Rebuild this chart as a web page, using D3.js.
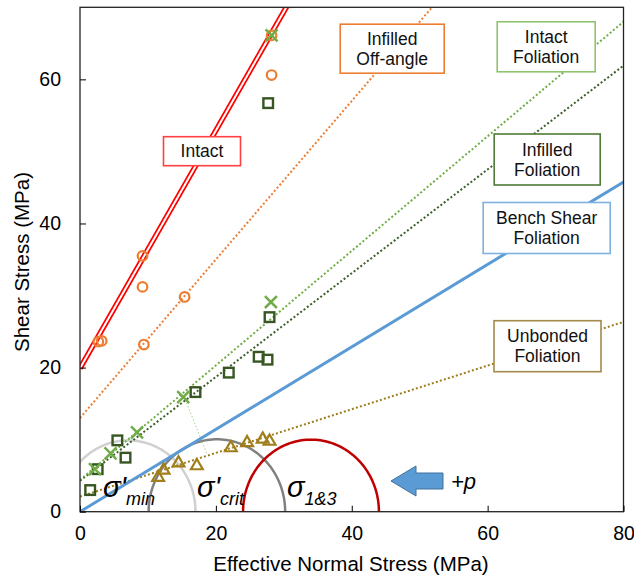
<!DOCTYPE html>
<html lang="en">
<head>
  <meta charset="UTF-8">
  <title>Shear vs Effective Normal Stress</title>
  <script src="https://cdnjs.cloudflare.com/ajax/libs/d3/7.8.5/d3.min.js"></script>
  <style>
    body { margin: 0; background: #fff; }
    svg { font-family: "Liberation Sans", Arial, sans-serif; }
    .tick text { font-size: 19.5px; fill: #000; }
    .box text { font-size: 17.5px; fill: #111; text-anchor: middle; }
  </style>
</head>
<body>
  <svg width="634" height="577"></svg>
  <script>
    // failure envelopes: intercept (MPa) and slope
    const envelopes = [
      { name: 'unbonded', c: 2.1, m: 0.303, color: '#a07e1b', dash: true },
      { name: 'bench', c: 0, m: 0.572, color: '#5b9bd5', dash: false },
      { name: 'infilledFol', c: 4.3, m: 0.72, color: '#3b5f27', dash: true },
      { name: 'intactFol', c: 4.4, m: 0.795, color: '#70ad47', dash: true },
      { name: 'offAngle', c: 13.0, m: 1.10, color: '#ed7d31', dash: true }
    ]
    const intact = { c: 19.9, m: 1.65 }

    // test points [normal, shear]
    const offAngle = [[28.2, 60.6], [9.2, 35.5], [9.2, 31.2], [15.4, 29.8], [2.7, 23.6], [3.2, 23.7], [9.4, 23.2], [28.2, 66.1]]
    const infilledFol = [[27.7, 56.7], [27.9, 27.0], [26.3, 21.5], [27.6, 21.1], [21.9, 19.3], [17.0, 16.6],
                         [5.5, 9.9], [6.7, 7.5], [2.6, 5.9], [1.5, 3.0]]
    const intactFol = [[28.2, 66.1], [28.1, 29.1], [15.2, 15.9], [8.4, 11.0], [4.5, 8.1], [2.2, 5.9]]
    const unbonded = [[11.5, 4.9], [12.3, 5.9], [14.5, 6.9], [17.2, 6.5], [22.2, 9.0], [24.6, 9.7], [26.9, 10.2], [27.9, 9.9]]

    // Mohr circles: centre, radius
    const circles = [
      { c: 7.1, r: 9.9, color: '#d0d0d0' },
      { c: 20.15, r: 10.05, color: '#808080' },
      { c: 34, r: 10, color: '#c00000' }
    ]

    const xTicks = [0, 20, 40, 60, 80]
    const yTicks = [0, 20, 40, 60]

    const labelText = [['Intact'], ['Infilled', 'Off-angle'], ['Intact', 'Foliation'],
                       ['Infilled', 'Foliation'], ['Bench Shear', 'Foliation'], ['Unbonded', 'Foliation']]

    // box layout in pixels: centre x, centre y, width, height, border colour
    const boxLayout = [
      [202, 151.2, 77, 29, '#ff4040'],
      [392.2, 48.7, 104, 49, '#ed7d31'],
      [546.2, 46.8, 98, 50, '#8fc36c'],
      [547.2, 159.5, 106, 51, '#4f7a38'],
      [546.7, 228, 127, 51, '#7fb1e0'],
      [547.5, 346.2, 107, 51, '#a48a4a']
    ]

    const svg = d3.select('svg')
    const x = d3.scaleLinear().domain([0, 80]).range([80, 623.5])
    const y = d3.scaleLinear().domain([0, 70]).range([511.7, 7.3])

    svg.append('clipPath').attr('id', 'plot')
      .append('rect').attr('x', 80).attr('y', 7.3).attr('width', 543.5).attr('height', 504.4)

    const g = svg.append('g').attr('clip-path', 'url(#plot)')

    // Mohr circles
    circles.forEach(c => {
      const pts = d3.range(0, 181, 2).map(a => [c.c + c.r * Math.cos(a * Math.PI / 180), c.r * Math.sin(a * Math.PI / 180)])
      g.append('path')
        .attr('d', d3.line().x(d => x(d[0])).y(d => y(d[1]))(pts))
        .attr('fill', 'none').attr('stroke', c.color).attr('stroke-width', 2.5)
    })

    // thin dotted normal from tangent point
    g.append('line')
      .attr('x1', x(15.3)).attr('y1', y(16.0)).attr('x2', x(18.7)).attr('y2', y(8.0))
      .attr('stroke', '#a9d18e').attr('stroke-width', 1).attr('stroke-dasharray', '1.5,2')

    envelopes.forEach(e => {
      g.append('line')
        .attr('x1', x(0)).attr('y1', y(e.c))
        .attr('x2', x(80)).attr('y2', y(e.c + e.m * 80))
        .attr('stroke', e.color)
        .attr('stroke-width', e.dash ? 2 : 3)
        .attr('stroke-dasharray', e.dash ? '2,2.2' : null)
    })

    // intact: double red line
    const ix2 = (70 - intact.c) / intact.m + 2
    g.append('line').attr('x1', x(0)).attr('y1', y(intact.c)).attr('x2', x(ix2)).attr('y2', y(intact.c + intact.m * ix2))
      .attr('stroke', '#ff0000').attr('stroke-width', 5.5)
    g.append('line').attr('x1', x(0)).attr('y1', y(intact.c)).attr('x2', x(ix2)).attr('y2', y(intact.c + intact.m * ix2))
      .attr('stroke', '#fff').attr('stroke-width', 2)

    // markers
    g.selectAll('.sq').data(infilledFol).join('rect')
      .attr('x', d => x(d[0]) - 4.8).attr('y', d => y(d[1]) - 4.8)
      .attr('width', 9.6).attr('height', 9.6)
      .attr('fill', 'none').attr('stroke', '#375623').attr('stroke-width', 2.4)

    g.selectAll('.ci').data(offAngle).join('circle')
      .attr('cx', d => x(d[0])).attr('cy', d => y(d[1])).attr('r', 4.8)
      .attr('fill', 'none').attr('stroke', '#ed7d31').attr('stroke-width', 2.2)

    const tri = d3.symbol().type(d3.symbolTriangle).size(60)
    g.selectAll('.tr').data(unbonded).join('path')
      .attr('d', tri)
      .attr('transform', d => `translate(${x(d[0])},${y(d[1]) + 1})`)
      .attr('fill', 'none').attr('stroke', '#a07e1b').attr('stroke-width', 2.2)

    const cross = d3.symbol().type(d3.symbolX).size(95)
    g.selectAll('.cx').data(intactFol).join('path')
      .attr('d', cross)
      .attr('transform', d => `translate(${x(d[0])},${y(d[1])})`)
      .attr('fill', 'none').attr('stroke', '#70ad47').attr('stroke-width', 2.5)

    // frame and axes
    svg.append('rect').attr('x', 80).attr('y', 7.3).attr('width', 543.5).attr('height', 504.4)
      .attr('fill', 'none').attr('stroke', '#222').attr('stroke-width', 1.3)

    svg.append('g').attr('transform', 'translate(0,511.7)')
      .call(d3.axisBottom(x).tickValues(xTicks).tickSizeInner(-6).tickSizeOuter(0).tickPadding(14))
      .call(a => a.select('.domain').remove())
      .call(a => a.selectAll('.tick text').attr('dy', '0.71em'))

    svg.append('g').attr('transform', 'translate(80,0)')
      .call(d3.axisLeft(y).tickValues(yTicks).tickSizeInner(-6).tickSizeOuter(0).tickPadding(19))
      .call(a => a.select('.domain').remove())

    svg.append('text').attr('x', 351).attr('y', 571).attr('text-anchor', 'middle')
      .attr('font-size', 20.5).text('Effective Normal Stress (MPa)')
    svg.append('text').attr('transform', 'translate(29,262) rotate(-90)').attr('text-anchor', 'middle')
      .attr('font-size', 20.5).text('Shear Stress (MPa)')

    // label boxes
    labelText.forEach((lines, k) => {
      const [cx, cy, w, h, col] = boxLayout[k]
      const b = svg.append('g').attr('class', 'box')
      b.append('rect').attr('x', cx - w / 2).attr('y', cy - h / 2).attr('width', w).attr('height', h)
        .attr('fill', '#fff').attr('stroke', col).attr('stroke-width', 1.6)
      lines.forEach((t, i) => {
        b.append('text').attr('x', cx).attr('y', cy + (i - (lines.length - 1) / 2) * 20 + 6).text(t)
      })
    })

    // circle labels
    const sig = [
      { x: 103, main: "σ'", sub: 'min' },
      { x: 197, main: "σ'", sub: 'crit' },
      { x: 287, main: 'σ', sub: '1&3' }
    ]
    sig.forEach(s => {
      const t = svg.append('text').attr('x', s.x).attr('y', 497).attr('font-style', 'italic').attr('fill', '#000')
      t.append('tspan').attr('font-size', 29).text(s.main)
      t.append('tspan').attr('font-size', 18).attr('dy', 8).text(s.sub)
    })

    // pressure arrow
    svg.append('path')
      .attr('d', 'M391,481 L416,466 L416,473 L443,473 L443,489 L416,489 L416,496 Z')
      .attr('fill', '#5b9bd5').attr('stroke', '#41719c').attr('stroke-width', 1)
    svg.append('text').attr('x', 451).attr('y', 489).attr('font-size', 22).attr('font-style', 'italic').text('+p')
  </script>
</body>
</html>
